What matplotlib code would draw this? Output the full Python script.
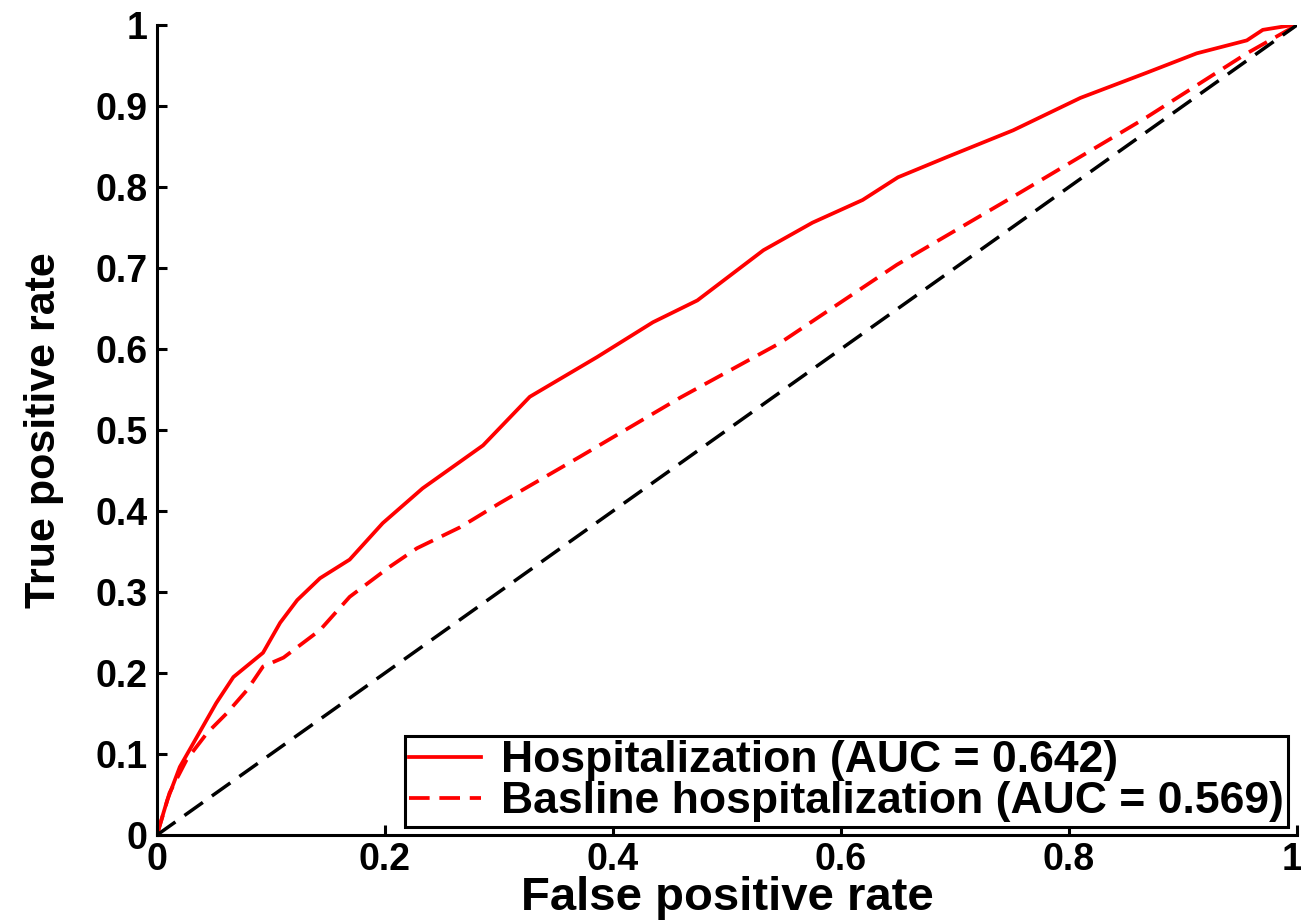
import matplotlib
matplotlib.use("Agg")
import matplotlib.pyplot as plt
from matplotlib.transforms import ScaledTranslation

# ---- data ----
hosp_fpr = [0, 0.002, 0.009, 0.020, 0.035, 0.052, 0.067, 0.093, 0.108, 0.123, 0.143,
            0.169, 0.198, 0.233, 0.286, 0.327, 0.386, 0.435, 0.474, 0.503, 0.532,
            0.575, 0.619, 0.650, 0.693, 0.751, 0.810, 0.868, 0.912, 0.956, 0.970,
            0.992, 1.0]
hosp_tpr = [0, 0.010, 0.043, 0.084, 0.121, 0.163, 0.195, 0.225, 0.262, 0.290, 0.317,
            0.340, 0.385, 0.428, 0.481, 0.541, 0.590, 0.633, 0.660, 0.691, 0.722,
            0.756, 0.784, 0.812, 0.837, 0.870, 0.910, 0.941, 0.965, 0.981, 0.994,
            0.999, 1.0]

base_fpr = [0, 0.011, 0.026, 0.044, 0.061, 0.079, 0.093, 0.111, 0.143, 0.169, 0.204,
            0.228, 0.266, 0.301, 0.371, 0.459, 0.546, 0.649, 0.751, 0.868, 0.956, 1.0]
base_tpr = [0, 0.052, 0.093, 0.126, 0.150, 0.179, 0.208, 0.219, 0.253, 0.294, 0.331,
            0.354, 0.380, 0.410, 0.467, 0.540, 0.607, 0.704, 0.788, 0.886, 0.965, 1.0]

chance = [0, 1]

labels = ["Hospitalization (AUC = 0.642)", "Basline hospitalization (AUC = 0.569)"]
xticks = [0, 0.2, 0.4, 0.6, 0.8, 1]
xticklabels = ["0", "0.2", "0.4", "0.6", "0.8", "1"]
yticks = [0, 0.1, 0.2, 0.3, 0.4, 0.5, 0.6, 0.7, 0.8, 0.9, 1]
yticklabels = ["0", "0.1", "0.2", "0.3", "0.4", "0.5", "0.6", "0.7", "0.8", "0.9", "1"]

plt.rcParams['font.family'] = ['Liberation Sans', 'DejaVu Sans']
plt.rcParams['font.weight'] = 'bold'

W, H = 1301, 922
fig = plt.figure(figsize=(W / 100, H / 100), dpi=100)
ax = fig.add_axes([157 / W, (H - 835) / H, 1140 / W, 810 / H])

ax.plot(hosp_fpr, hosp_tpr, color='red', lw=2.7, label=labels[0])
ax.plot(base_fpr, base_tpr, color='red', lw=2.7, dashes=(5.5, 2.6), label=labels[1])
ax.plot(chance, chance, color='black', lw=2.5, dashes=(6.5, 3.2))

ax.set_xlim(0, 1)
ax.set_ylim(0, 1)
ax.set_xticks(xticks)
ax.set_xticklabels(xticklabels)
ax.set_yticks(yticks)
ax.set_yticklabels(yticklabels)

for s in ['top', 'right']:
    ax.spines[s].set_visible(False)
for s in ['left', 'bottom']:
    ax.spines[s].set_linewidth(2.2)

ax.tick_params(direction='in', length=7, width=2.2, labelsize=27)
ax.tick_params(axis='y', pad=7)
ax.tick_params(axis='x', pad=5)
for lab in ax.get_xticklabels() + ax.get_yticklabels():
    lab.set_fontweight('bold')
# keep the last x tick label inside the figure
last = ax.get_xticklabels()[-1]
last.set_transform(last.get_transform() + ScaledTranslation(-5 / 100, 0, fig.dpi_scale_trans))

ax.set_xlabel("False positive rate", fontsize=34, fontweight='bold')
ax.xaxis.label.set_va('baseline')
ax.xaxis.set_label_coords(0.5, (835 - 910) / 810)
ax.set_ylabel("True positive rate", fontsize=31, fontweight='bold')
ax.yaxis.set_label_coords((64 - 157) / 1140, 0.5)

leg = ax.legend(loc='lower right', bbox_to_anchor=(0.992, 0.01), borderaxespad=0,
                prop={'weight': 'bold', 'size': 32},
                fancybox=False, framealpha=1, edgecolor='black',
                handlelength=1.6, handletextpad=0.45, borderpad=0.1,
                labelspacing=0.0)
leg.get_frame().set_linewidth(2.2)

fig.savefig("out.png", dpi=100)
